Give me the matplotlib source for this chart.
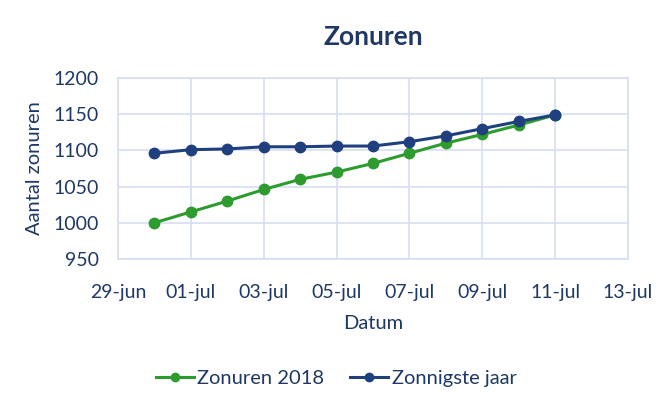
import matplotlib.pyplot as plt
import pandas as pd

plt.rcParams['font.family'] = ['Lato', 'DejaVu Sans']

dates = pd.date_range('2018-06-30', '2018-07-11', freq='D')
zonuren_2018 = [1000, 1015, 1030, 1046, 1060, 1070, 1082, 1096, 1110, 1122, 1135, 1149]
zonnigste_jaar = [1096, 1101, 1102, 1105, 1105, 1106, 1106, 1112, 1120, 1130, 1140, 1149]

tick_dates = pd.date_range('2018-06-29', '2018-07-13', freq='2D')
tick_labels = ['29-jun', '01-jul', '03-jul', '05-jul', '07-jul', '09-jul', '11-jul', '13-jul']

text_col = '#1F3864'
green = '#2E9B2E'
blue = '#1F3F7F'
grid_col = '#D5DEF0'

fig = plt.figure(figsize=(6.68, 4.18), dpi=100)
ax = fig.add_axes([0.1766, 0.3804, 0.7634, 0.433])

ax.plot(dates, zonuren_2018, color=green, lw=2.2, marker='o', ms=7.5, label='Zonuren 2018')
ax.plot(dates, zonnigste_jaar, color=blue, lw=2.2, marker='o', ms=7.5, label='Zonnigste jaar')

ax.set_xlim(tick_dates[0], tick_dates[-1])
ax.set_xticks(tick_dates)
ax.set_xticklabels(tick_labels)
ax.set_ylim(950, 1200)
ax.set_yticks(range(950, 1201, 50))

ax.grid(True, color=grid_col, lw=1.2)
ax.set_axisbelow(True)
for s in ax.spines.values():
    s.set_color(grid_col)
    s.set_linewidth(1.2)
ax.tick_params(length=0, labelsize=14, colors=text_col, pad=14)
ax.tick_params(axis='x', pad=18)

ax.set_title('Zonuren', fontsize=19, fontweight='bold', color=text_col, pad=24)
ax.set_xlabel('Datum', fontsize=14.5, color=text_col, labelpad=10)
ax.set_ylabel('Aantal zonuren', fontsize=14.5, color=text_col, labelpad=7)

leg = fig.legend(loc='center', bbox_to_anchor=(0.503, 0.095), ncol=2, frameon=False,
                 fontsize=14.5, handlelength=1.9, handletextpad=0.15, columnspacing=1.3,
                 markerscale=0.8)
for t in leg.get_texts():
    t.set_color(text_col)

plt.savefig('out.png')
